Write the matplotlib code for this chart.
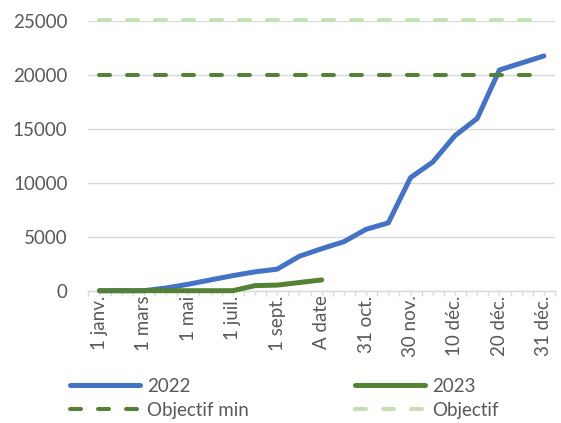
import matplotlib
matplotlib.use('Agg')
import matplotlib.pyplot as plt

categories = ['1 janv.', '1 févr.', '1 mars', '1 avr.', '1 mai', '1 juin', '1 juil.',
              '1 août', '1 sept.', '1 oct.', 'A date', '15 oct.', '31 oct.', '15 nov.',
              '30 nov.', '5 déc.', '10 déc.', '15 déc.', '20 déc.', '25 déc.', '31 déc.']
v2022 = [0, 0, 0, 250, 600, 1000, 1400, 1750, 2000, 3200, 3900, 4550, 5700, 6300,
         10500, 11950, 14400, 16000, 20500, 21150, 21800]
v2023 = [0, 0, 0, 0, 0, 0, 0, 470, 520, 760, 1000]
obj_min = [20000, 20000, 20000, 20000, 20000, 20000, 20000, 20000, 20000, 20000, 20000,
           20000, 20000, 20000, 20000, 20000, 20000, 20000, 20000, 20000, 20000]
obj = [25150, 25150, 25150, 25150, 25150, 25150, 25150, 25150, 25150, 25150, 25150,
       25150, 25150, 25150, 25150, 25150, 25150, 25150, 25150, 25150, 25150]
yticks = [0, 5000, 10000, 15000, 20000, 25000]
series_names = ['2022', '2023', 'Objectif min', 'Objectif']

BLUE = '#4472C4'
GREEN = '#548235'
LIGHT = '#C5E0B4'
TXT = '#595959'
GRID = '#D9D9D9'

plt.rcParams['font.family'] = ['Lato', 'DejaVu Sans']
FS = 13.5

W, H = 561, 423
fig = plt.figure(figsize=(W / 100, H / 100), dpi=100)
ax = fig.add_axes([88.3 / W, 1 - 290.7 / H, (555 - 88.3) / W, (290.7 - 21.5) / H])

x = list(range(len(categories)))
lw_solid = 3.6
lw_dash = 2.9
dash = (2.73, 4.22)

ax.plot(x, v2022, color=BLUE, lw=lw_solid, solid_capstyle='round', solid_joinstyle='round',
        label=series_names[0], clip_on=False, zorder=3)
ax.plot(x[:len(v2023)], v2023, color=GREEN, lw=lw_solid, solid_capstyle='round',
        solid_joinstyle='round', label=series_names[1], clip_on=False, zorder=4)
ax.plot(x, obj_min, color=GREEN, lw=lw_dash, dashes=dash, dash_capstyle='round',
        label=series_names[2], clip_on=False, zorder=5)
ax.plot(x, obj, color=LIGHT, lw=lw_dash, dashes=dash, dash_capstyle='round',
        label=series_names[3], clip_on=False, zorder=6)

ax.set_xlim(-0.5, len(categories) - 0.5)
ax.set_ylim(0, 25000)
ax.set_yticks(yticks)
ax.set_yticklabels([str(v) for v in yticks])
ax.yaxis.grid(True, color=GRID, lw=1.0)
ax.set_axisbelow(True)

ax.set_xticks(x)
ax.set_xticklabels([c if i % 2 == 0 else '' for i, c in enumerate(categories)],
                   rotation=90, fontsize=FS, color=TXT)
ax.set_xticks([i - 0.5 for i in range(len(categories) + 1)], minor=True)
ax.tick_params(axis='x', which='major', length=2.9, width=1.0, color=GRID, pad=0.5)
ax.tick_params(axis='x', which='minor', length=3.9, width=1.0, color=GRID)
ax.tick_params(axis='y', length=0, pad=15.0, labelsize=FS, labelcolor=TXT)

for s in ['top', 'right', 'left']:
    ax.spines[s].set_visible(False)
ax.spines['bottom'].set_color(GRID)
ax.spines['bottom'].set_linewidth(1.0)

lines = ax.get_lines()
fs_px = FS * 100 / 72
common = dict(frameon=False, fontsize=FS, labelcolor=TXT, handlelength=70 / fs_px,
              handletextpad=7 / fs_px, borderpad=0, borderaxespad=0, labelspacing=0.36,
              loc='upper left')
leg1 = fig.legend([lines[0], lines[2]], [series_names[0], series_names[2]],
                  bbox_to_anchor=(70 / W, 1 - 378 / H), **common)
leg2 = fig.legend([lines[1], lines[3]], [series_names[1], series_names[3]],
                  bbox_to_anchor=(355 / W, 1 - 378 / H), **common)

fig.savefig('out.png', dpi=100)
